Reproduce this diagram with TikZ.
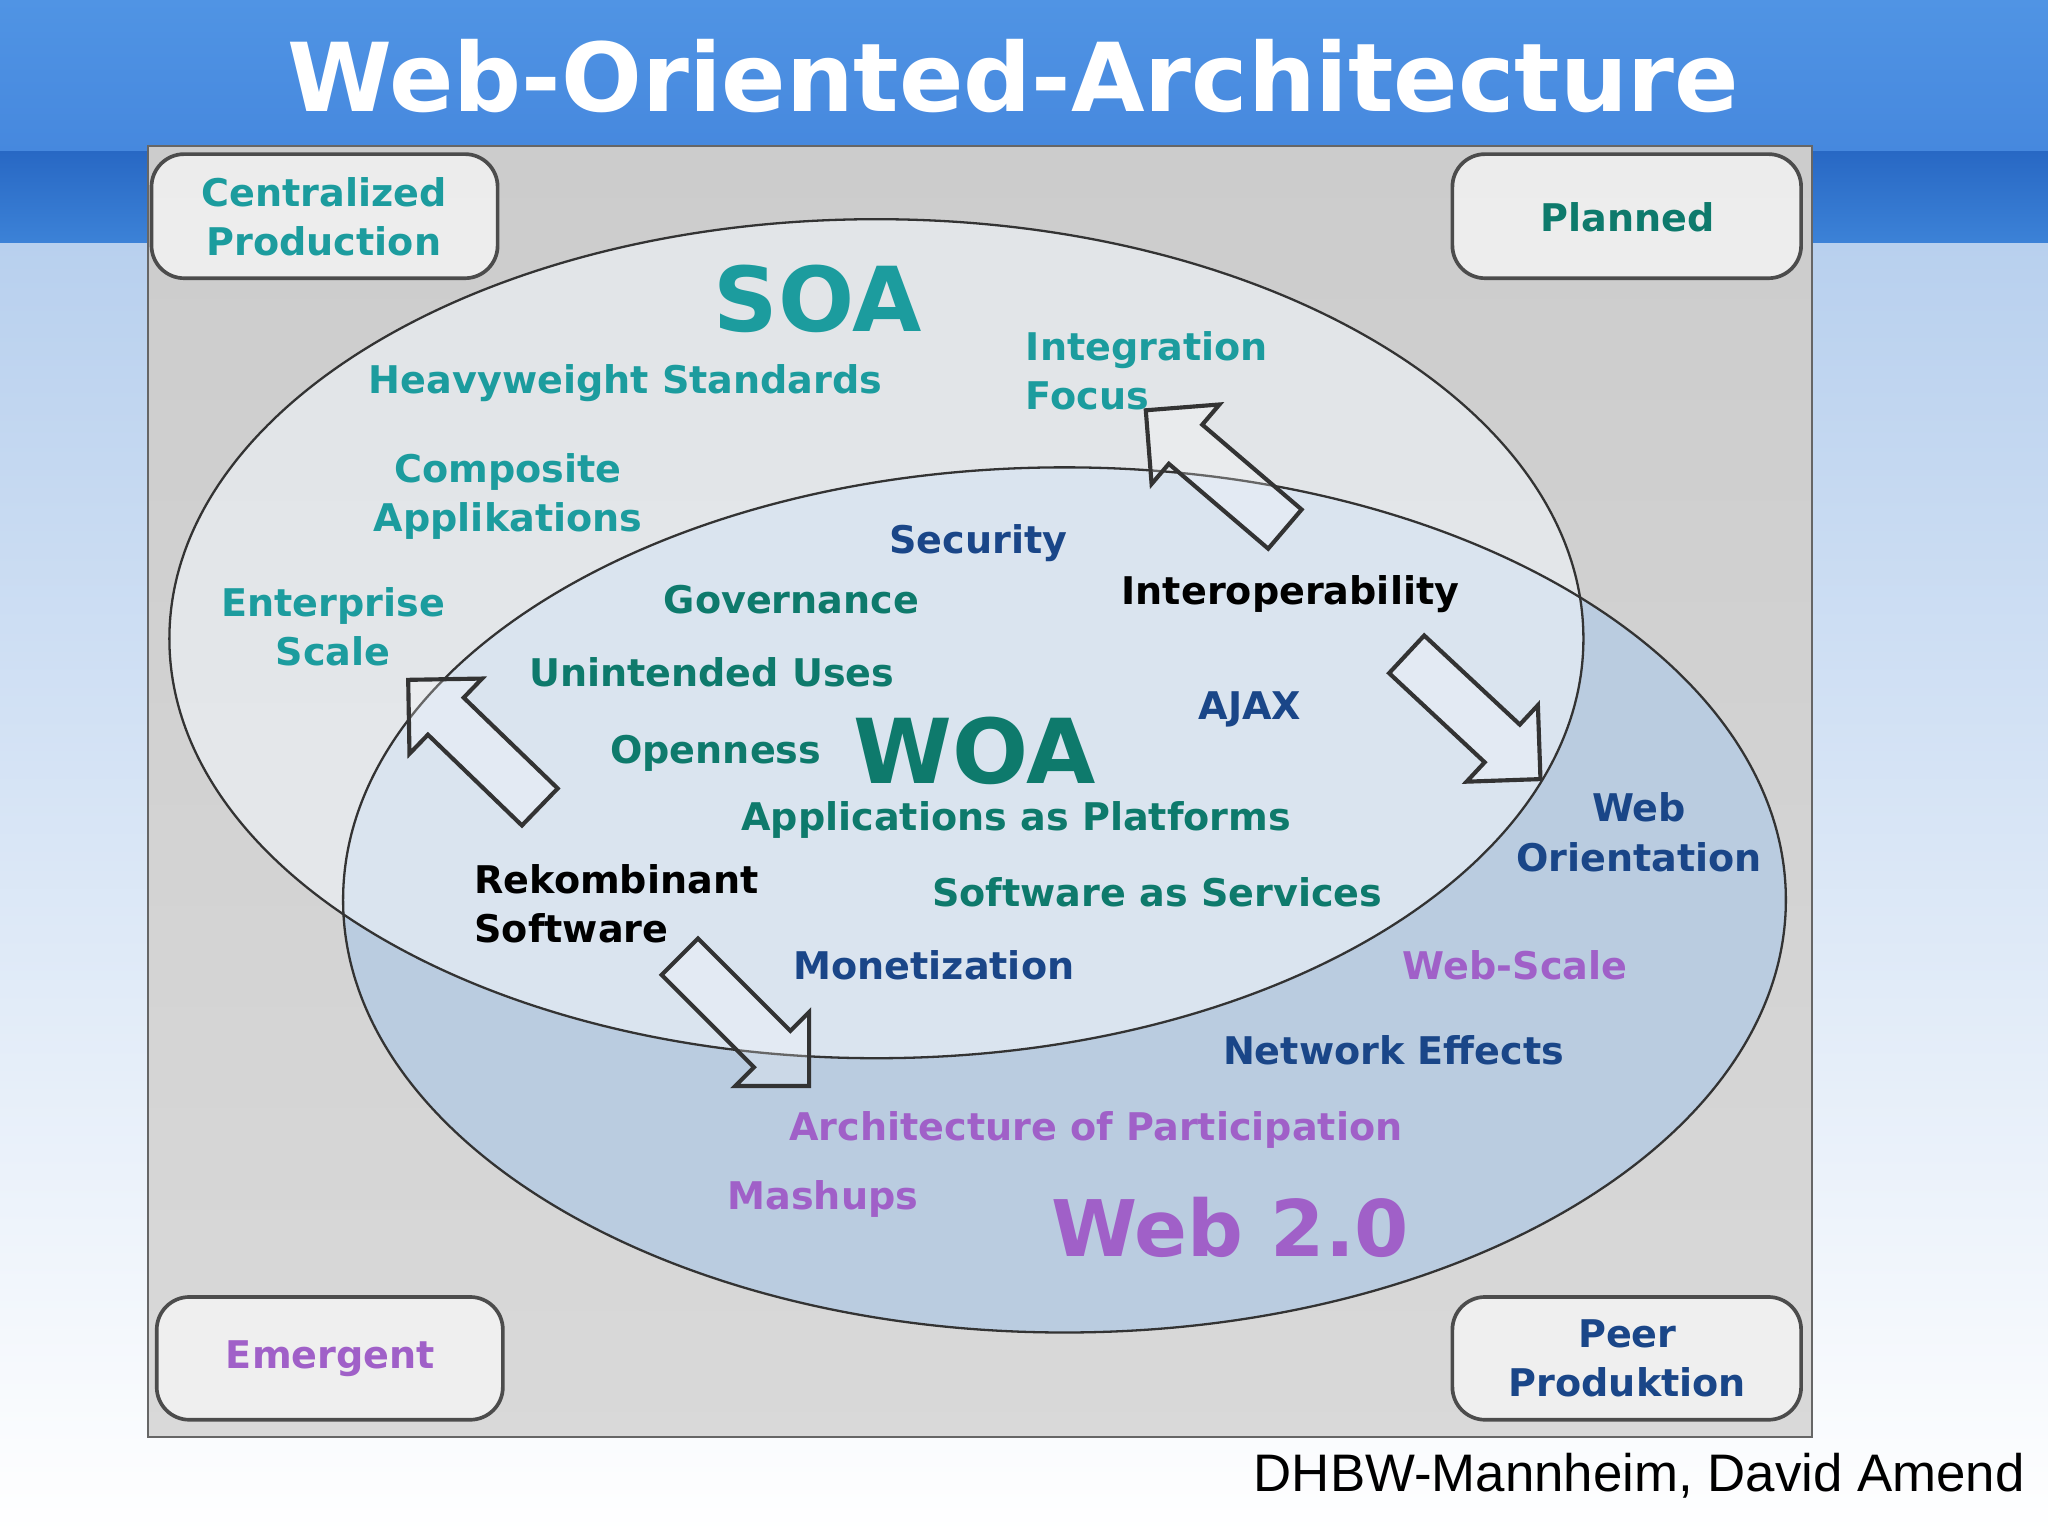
\documentclass[tikz,border=0pt]{standalone}
\usepackage{fontspec}
\setmainfont{DejaVu Sans}
\newfontfamily\arialf{Liberation Sans}
\usetikzlibrary{shapes.arrows}
\definecolor{teal1}{HTML}{1C9C9E}
\definecolor{teal2}{HTML}{0E7A6C}
\definecolor{navy}{HTML}{1A4688}
\definecolor{purp}{HTML}{A060C8}
\definecolor{soafill}{HTML}{F0F5FA}
\begin{document}
\begin{tikzpicture}[x=0.01cm,y=-0.01cm,
 lab/.style={font=\bfseries\fontsize{8.3}{10.8}\selectfont,align=center,inner sep=0},
 big/.style={font=\bfseries\fontsize{19.5}{22}\selectfont,inner sep=0},
 corner/.style={draw=black!70,line width=0.8pt,rounded corners=0.25cm,fill=gray!8,fill opacity=0.8},
 blk/.style={single arrow,draw=black!80,line width=0.9pt,fill=white,fill opacity=0.25,minimum height=1.4cm,minimum width=0.8cm,single arrow head extend=0.14cm,inner sep=0.12cm}]
\useasboundingbox (0,0) rectangle (1568,1175);
\shade[top color={rgb,255:red,184;green,208;blue,238},bottom color=white] (0,185) rectangle (1568,1175);
\shade[top color={rgb,255:red,80;green,148;blue,228},bottom color={rgb,255:red,70;green,136;blue,222}] (0,0) rectangle (1568,116);
\shade[top color={rgb,255:red,40;green,104;blue,196},bottom color={rgb,255:red,60;green,130;blue,215}] (0,116) rectangle (1568,186);
\node[font=\bfseries\fontsize{20.7}{24}\selectfont,text=white] (title) at (776,58) {Web-Oriented-Architecture};
\shade[top color=gray!40,bottom color=gray!30,draw=black!60] (113,112) rectangle (1387,1100);
% ellipses
\fill[fill={rgb,255:red,186;green,204;blue,224}] (815,689) ellipse [x radius=5.52cm,y radius=3.31cm];
\fill[soafill,opacity=0.6] (671,489) ellipse [x radius=5.41cm,y radius=3.21cm];
\draw[black!80,line width=0.5pt] (815,689) ellipse [x radius=5.52cm,y radius=3.31cm];
\draw[black!80,line width=0.5pt] (671,489) ellipse [x radius=5.41cm,y radius=3.21cm];
% corners
\draw[corner] (116,118) rectangle (381,213);
\draw[corner] (1112,118) rectangle (1379,213);
\draw[corner] (120,993) rectangle (385,1087);
\draw[corner] (1112,993) rectangle (1379,1087);
\node[lab,text=teal1] (cp) at (248,166) {Centralized\\Production};
\node[lab,text=teal2] (pl) at (1246,166) {Planned};
\node[lab,text=purp] (em) at (253,1040) {Emergent};
\node[lab,text=navy] (pp) at (1246,1040) {Peer\\Produktion};
% arrows
\node[blk,rotate=139.5] (a1) at (938,366) {};
\node[blk,rotate=-43] (a2) at (1121,542) {};
\node[blk,rotate=136] (a3) at (370,576) {};
\node[blk,rotate=-45] (a4) at (563,775) {};
% texts
\node[big,text=teal1] (soa) at (626,229) {SOA};
\node[lab,text=teal1] (t1) at (479,293) {Heavyweight Standards};
\node[lab,text=teal1,align=left] (t2) at (878,284) {Integration\\Focus};
\node[lab,text=teal1] (t3) at (389,380) {Composite\\Applikations};
\node[lab,text=teal1] (t4) at (255,480) {Enterprise\\Scale};
\node[lab,text=navy] (t5) at (749,416) {Security};
\node[lab,text=teal2] (t6) at (606,459) {Governance};
\node[lab,text=black] (t7) at (988,455) {Interoperability};
\node[lab,text=teal2] (t8) at (545,515) {Unintended Uses};
\node[lab,text=navy] (t9) at (957,543) {AJAX};
\node[lab,text=teal2] (t10) at (548,577) {Openness};
\node[big,text=teal2] (woa) at (746,575) {WOA};
\node[lab,text=teal2] (t11) at (778,628) {Applications as Platforms};
\node[lab,text=navy] (t12) at (1255,637) {Web\\Orientation};
\node[lab,text=black,align=left] (t13) at (472,692) {Rekombinant\\Software};
\node[lab,text=teal2] (t14) at (886,683) {Software as Services};
\node[lab,text=navy] (t15) at (715,739) {Monetization};
\node[lab,text=purp] (t16) at (1160,739) {Web-Scale};
\node[lab,text=navy] (t17) at (1067,804) {Network Effects};
\node[lab,text=purp] (t18) at (839,865) {Architecture of Participation};
\node[lab,text=purp] (t19) at (630,918) {Mashups};
\node[font=\bfseries\fontsize{17}{20}\selectfont,inner sep=0,text=purp] (w2) at (942,940) {Web 2.0};
\node[font=\arialf\fontsize{11.5}{13}\selectfont,inner sep=0,anchor=east] (ft) at (1551,1130) {DHBW-Mannheim, David Amend};
\end{tikzpicture}
\end{document}
